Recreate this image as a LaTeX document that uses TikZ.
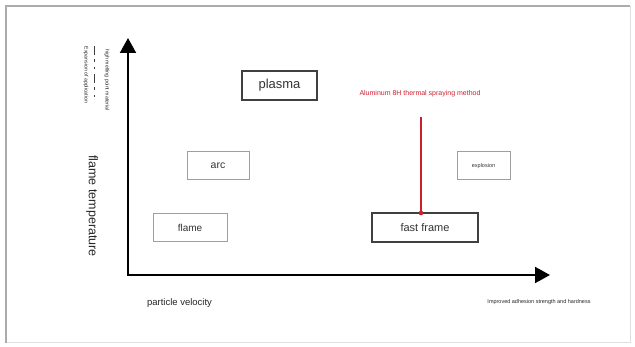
\documentclass[tikz,border=0pt]{standalone}
\usepackage{fontspec}
\setmainfont{Liberation Sans}
\usetikzlibrary{arrows.meta}
\definecolor{redline}{RGB}{205,30,45}
\tikzset{
  fsz/.style={font=\fontsize{#1}{#1}\selectfont},
  boxnode/.style={draw=gray!75, line width=1pt, fill=white, inner sep=0pt, text=black!80},
  strongbox/.style={boxnode, draw=black!75, line width=1.3pt},
  axis/.style={line width=2pt, black, -{Triangle[length=15pt,width=16pt]}},
  lbl/.style={inner sep=0pt, text=black!85}
}
\begin{document}
\begin{tikzpicture}[x=1pt,y=-1pt]
\useasboundingbox (0,0) rectangle (635,347);
% frame
\coordinate (ftl) at (6,6);
\coordinate (fbr) at (630,343);
\draw[gray!25, line width=1pt] (ftl -| fbr) -- (fbr) -- (fbr -| ftl);
\draw[gray!65, line width=1.2pt] (fbr -| ftl) -- (ftl) -- (ftl -| fbr);
% axes
\coordinate (origin) at (128,275);
\coordinate (ytip) at (128,38);
\coordinate (xtip) at (550,275);
\draw[axis] ([yshift=-1pt]origin) -- (ytip);
\draw[axis] ([xshift=-1pt]origin) -- (xtip);
% boxes
\node[strongbox, minimum width=75pt, minimum height=29pt, fsz=13] (plasma) at (279.5,85.5) {plasma};
\node[boxnode, minimum width=62pt, minimum height=28pt, fsz=10.5] (arc) at (218,166) {arc};
\node[boxnode, minimum width=74pt, minimum height=28pt, fsz=10] (flame) at (190,228) {flame};
\node[strongbox, minimum width=106pt, minimum height=29pt, fsz=11] (fast) at (425,227.5) {fast frame};
\node[boxnode, minimum width=53pt, minimum height=28pt, fsz=5.5] (explo) at (483.5,166) {explosion};
% red annotation
\node[lbl, text=redline, fsz=7] (alu) at (420,94) {Aluminum 8H thermal spraying method};
\coordinate (redtop) at (421,117);
\coordinate (reddot) at (421,213);
\draw[redline, line width=1.5pt] (redtop) -- (reddot);
\fill[redline] (reddot) circle (2.3pt);
% axis labels
\node[lbl, rotate=-90, fsz=12.5] (ytitle) at (92,206) {flame temperature};
\node[lbl, fsz=9.5] (xtitle) at (179.5,303) {particle velocity};
\node[lbl, fsz=5.5] (improve) at (539,302) {Improved adhesion strength and hardness};
\node[lbl, rotate=-90, fsz=5.2] (highmelt) at (107,80) {high melting point material};
\node[lbl, rotate=-90, fsz=5.2] (expand) at (86,75) {Expansion of application};
\coordinate (dashtop) at (94,46);
\coordinate (dashbot) at (94,98);
\draw[black!75, line width=1pt, dash pattern=on 9pt off 4pt on 3pt off 5pt on 2pt off 5pt] (dashtop) -- (dashbot);
\end{tikzpicture}
\end{document}
